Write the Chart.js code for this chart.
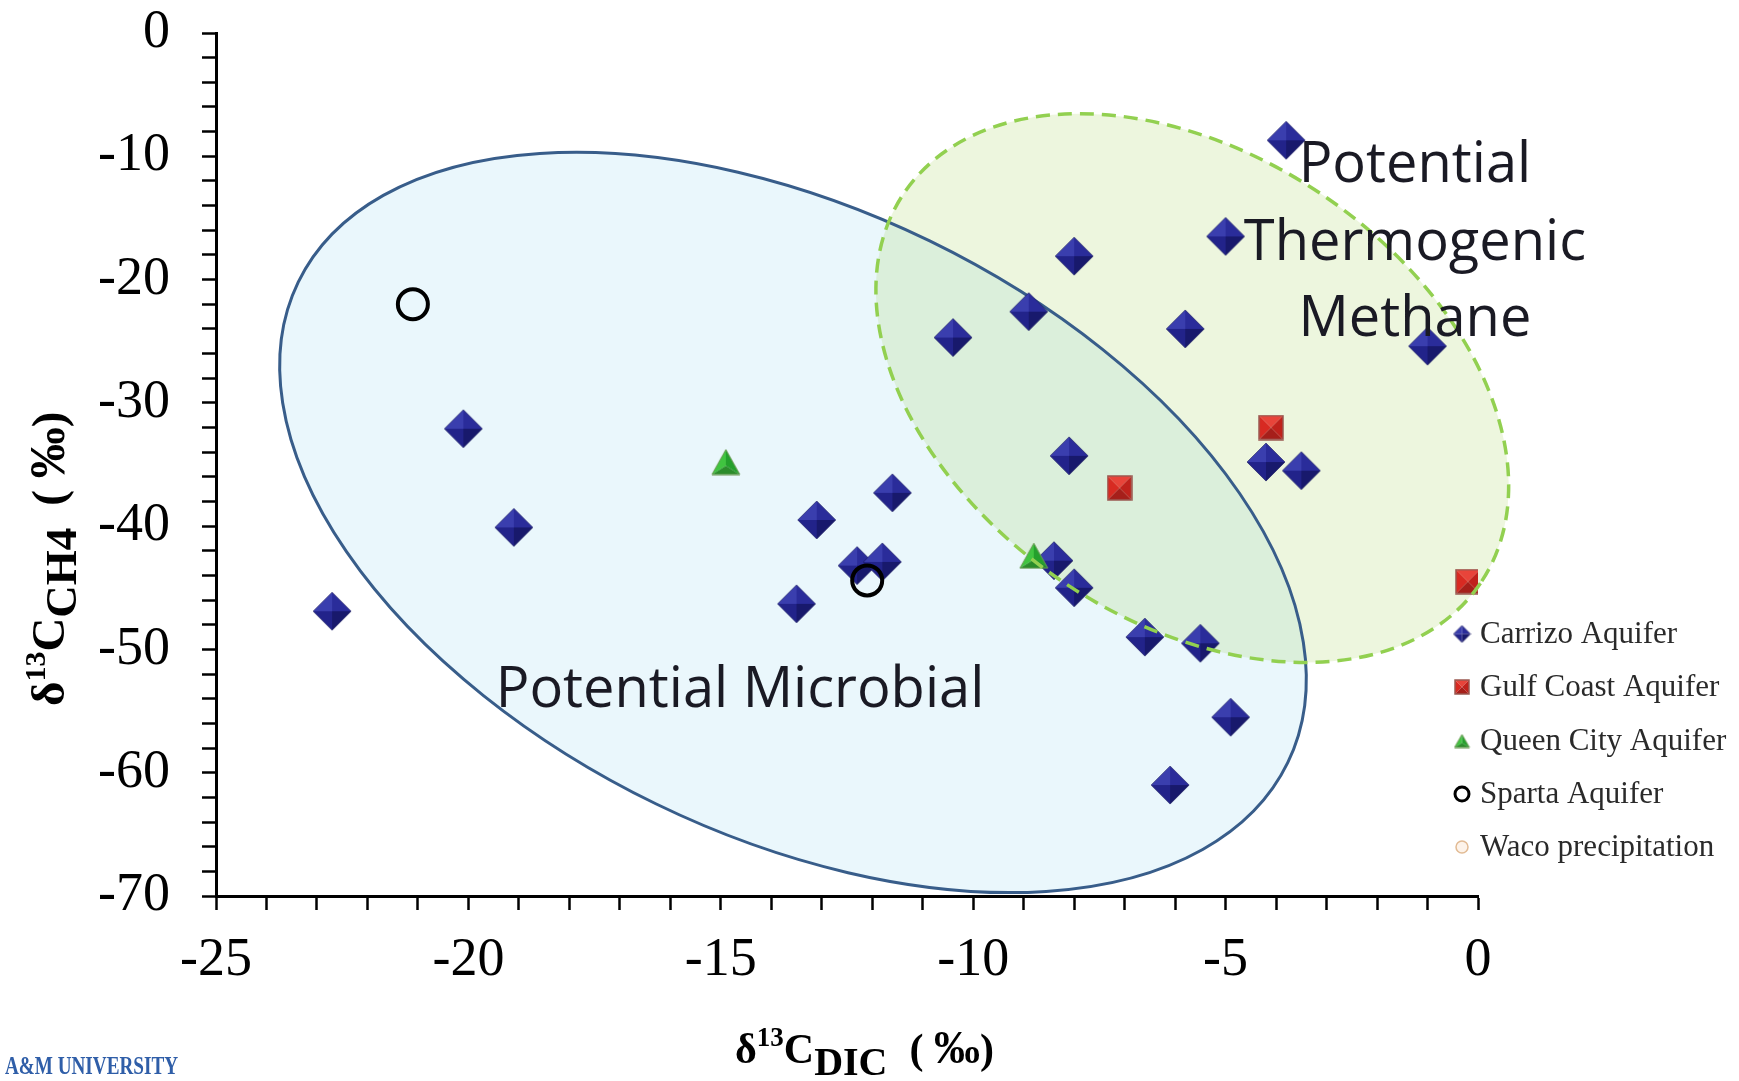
<!DOCTYPE html>
<html>
<head>
<meta charset="utf-8">
<title>d13C DIC vs CH4</title>
<script src="https://cdn.jsdelivr.net/npm/chart.js@4.4.1/dist/chart.umd.min.js"></script>
<style>
  html, body { margin: 0; padding: 0; background: #fff; }
  canvas { display: block; }
</style>
</head>
<body>
<canvas id="chart" width="1739" height="1081"></canvas>
<script>
// series values (per mil)
const carrizoX = [-22.7, -20.1, -19.1, -13.5, -13.1, -12.3, -11.8, -11.6, -10.4, -8.9, -8.4, -8.1, -8.0, -8.0, -6.6, -6.1, -5.8, -5.5, -5.0, -4.9, -4.2, -3.8, -3.5, -1.0];
const carrizoY = [-46.9, -32.1, -40.1, -46.3, -39.5, -43.2, -42.9, -37.3, -24.7, -22.6, -42.8, -34.3, -18.1, -45.0, -49.0, -61.0, -24.0, -49.5, -16.5, -55.5, -34.8, -8.7, -35.5, -25.4];
const gulfX = [-7.1, -4.1, -0.2];
const gulfY = [-36.9, -32.0, -44.5];
const queenX = [-14.9, -8.8];
const queenY = [-34.8, -42.4];
const spartaX = [-21.1, -12.1];
const spartaY = [-22.0, -44.4];
const wacoX = [];
const wacoY = [];

const seriesNames = ["Carrizo Aquifer", "Gulf Coast Aquifer", "Queen City Aquifer", "Sparta Aquifer", "Waco precipitation"];
const xTicks = [-25, -20, -15, -10, -5, 0];
const yTicks = [0, -10, -20, -30, -40, -50, -60, -70];

const serif = "'Liberation Serif', 'Times New Roman', serif";
const sans = "'Open Sans', 'Noto Sans', sans-serif";

// shaded marker sprites (Excel style bevel)
function facet(g, pts, color) {
    g.beginPath();
    g.moveTo(pts[0][0], pts[0][1]);
    for (let i = 1; i < pts.length; i++) g.lineTo(pts[i][0], pts[i][1]);
    g.closePath();
    g.fillStyle = color;
    g.fill();
}

function makeDiamond(size) {
    const c = document.createElement("canvas");
    c.width = c.height = size;
    const g = c.getContext("2d");
    const m = size / 2, r = size / 2 - 1;
    const T = [m, m - r], R = [m + r, m], B = [m, m + r], L = [m - r, m], C = [m, m];
    facet(g, [T, L, C], "#3a3eae");
    facet(g, [T, R, C], "#2a2c9a");
    facet(g, [B, R, C], "#18196c");
    facet(g, [B, L, C], "#22238a");
    g.strokeStyle = "rgba(20,20,90,0.6)";
    g.lineWidth = 1;
    g.beginPath(); g.moveTo(T[0], T[1]); g.lineTo(R[0], R[1]); g.lineTo(B[0], B[1]); g.lineTo(L[0], L[1]); g.closePath(); g.stroke();
    return c;
}

function makeSquare(size) {
    const c = document.createElement("canvas");
    c.width = c.height = size;
    const g = c.getContext("2d");
    const a = 1, b = size - 1, m = size / 2;
    const C = [m, m];
    facet(g, [[a, a], [b, a], C], "#e8443a");
    facet(g, [[a, a], [a, b], C], "#d82a22");
    facet(g, [[b, a], [b, b], C], "#c0221c");
    facet(g, [[a, b], [b, b], C], "#a61f1a");
    g.strokeStyle = "#9a5a52";
    g.lineWidth = 1.5;
    g.strokeRect(a, a, b - a, b - a);
    return c;
}

function makeTriangle(w, h) {
    const c = document.createElement("canvas");
    c.width = w; c.height = h;
    const g = c.getContext("2d");
    const A = [w / 2, 1], BL = [1, h - 1], BR = [w - 1, h - 1], C = [w / 2, h * 0.64];
    facet(g, [A, BL, C], "#40c440");
    facet(g, [A, BR, C], "#24a02c");
    facet(g, [BL, BR, C], "#2b8c2b");
    g.strokeStyle = "#6c9a54";
    g.lineWidth = 1;
    g.beginPath(); g.moveTo(A[0], A[1]); g.lineTo(BR[0], BR[1]); g.lineTo(BL[0], BL[1]); g.closePath(); g.stroke();
    return c;
}

const diamondImg = makeDiamond(40);
const squareImg = makeSquare(26);
const triangleImg = makeTriangle(30, 27);
const legendMarks = [makeDiamond(19), makeSquare(16), makeTriangle(17, 15)];

function pairs(xs, ys) {
    return xs.map((x, i) => ({ x: x, y: ys[i] }));
}

// shaded regions
const microbial = { cx: -13.57, cy: -39.7, rx: 550, ry: 313, angle: 25.9 };
const thermogenic = { cx: -5.66, cy: -28.8, rx: 348, ry: 233, angle: 34.1 };

function ellipsePath(ctx, chart, e) {
    const cx = chart.scales.x.getPixelForValue(e.cx);
    const cy = chart.scales.y.getPixelForValue(e.cy);
    ctx.beginPath();
    ctx.ellipse(cx, cy, e.rx, e.ry, e.angle * Math.PI / 180, 0, Math.PI * 2);
}

// draws a run of text pieces with sub/superscript offsets
function richText(ctx, pieces) {
    let x = 0;
    pieces.forEach(p => {
        ctx.font = p.font;
        ctx.fillText(p.text, x, p.dy || 0);
        x += ctx.measureText(p.text).width + (p.gap || 0);
    });
}

function titlePieces(sub, size) {
    return [
        { text: "δ", font: "bold " + size + "px " + serif },
        { text: "13", font: "bold " + Math.round(size * 0.64) + "px " + serif, dy: -size * 0.4 },
        { text: "C", font: "bold " + size + "px " + serif },
        { text: sub, font: "bold " + (size - 2) + "px " + serif, dy: 12, gap: 22 },
        { text: "( ", font: "bold " + size + "px " + serif },
        { text: "‰", font: "bold " + (size + 4) + "px " + serif },
        { text: ")", font: "bold " + size + "px " + serif }
    ];
}

const decorPlugin = {
    id: "decor",
    beforeDatasetsDraw(chart) {
        const ctx = chart.ctx;
        ctx.save();
        ellipsePath(ctx, chart, microbial);
        ctx.fillStyle = "#eaf7fc";
        ctx.fill();
        ellipsePath(ctx, chart, thermogenic);
        ctx.fillStyle = "rgba(146,200,60,0.17)";
        ctx.fill();
        ellipsePath(ctx, chart, microbial);
        ctx.strokeStyle = "#385d8a";
        ctx.lineWidth = 3;
        ctx.stroke();
        ctx.restore();
    },
    afterDatasetsDraw(chart) {
        const ctx = chart.ctx;
        ctx.save();
        ellipsePath(ctx, chart, thermogenic);
        ctx.strokeStyle = "#92d050";
        ctx.lineWidth = 3.5;
        ctx.setLineDash([14, 8]);
        ctx.stroke();
        ctx.restore();
    },
    afterDraw(chart) {
        const ctx = chart.ctx;
        const xs = chart.scales.x, ys = chart.scales.y;
        ctx.save();

        // region labels
        ctx.fillStyle = "#1a1a24";
        ctx.font = "56px " + sans;
        ctx.textAlign = "center";
        ctx.textBaseline = "middle";
        ctx.fillText("Potential Microbial", xs.getPixelForValue(-14.62), ys.getPixelForValue(-53.4));
        const tx = xs.getPixelForValue(-1.25);
        ctx.fillText("Potential", tx, ys.getPixelForValue(-10.8));
        ctx.fillText("Thermogenic", tx, ys.getPixelForValue(-17.1));
        ctx.fillText("Methane", tx, ys.getPixelForValue(-23.3));

        // axis titles
        ctx.fillStyle = "#000";
        ctx.textAlign = "left";
        ctx.textBaseline = "alphabetic";
        ctx.save();
        ctx.translate(735, 1063);
        richText(ctx, titlePieces("DIC", 42));
        ctx.restore();
        ctx.save();
        ctx.translate(64, 706);
        ctx.rotate(-Math.PI / 2);
        richText(ctx, titlePieces("CH4", 47));
        ctx.restore();

        // legend
        const rows = [634, 687, 741, 794, 847];
        ctx.font = "31px " + serif;
        ctx.fillStyle = "#2a2a2a";
        ctx.textBaseline = "middle";
        seriesNames.forEach((name, i) => {
            const y = rows[i], mx = 1462;
            if (i < 3) {
                const m = legendMarks[i];
                ctx.drawImage(m, mx - m.width / 2, y - m.height / 2);
            } else if (i === 3) {
                ctx.beginPath();
                ctx.arc(mx, y, 7, 0, Math.PI * 2);
                ctx.lineWidth = 3;
                ctx.strokeStyle = "#000";
                ctx.stroke();
            } else {
                ctx.beginPath();
                ctx.arc(mx, y, 6, 0, Math.PI * 2);
                ctx.fillStyle = "#fdf3ea";
                ctx.fill();
                ctx.lineWidth = 1.5;
                ctx.strokeStyle = "#e2bb94";
                ctx.stroke();
                ctx.fillStyle = "#2a2a2a";
            }
            ctx.fillText(name, 1480, y + 1);
        });

        // corner logo remnant
        ctx.font = "bold 26px " + serif;
        ctx.fillStyle = "#2f5ea8";
        ctx.textBaseline = "alphabetic";
        const logo = "A&M UNIVERSITY";
        const w = ctx.measureText(logo).width;
        ctx.translate(5, 1074);
        ctx.scale(173 / w, 1);
        ctx.fillText(logo, 0, 0);
        ctx.restore();
    }
};

const axisGrid = {
    display: true,
    drawOnChartArea: false,
    drawTicks: true,
    tickLength: 14,
    tickColor: "#000",
    tickWidth: 2.5
};

new Chart(document.getElementById("chart"), {
    type: "scatter",
    data: {
        datasets: [
            { label: seriesNames[0], data: pairs(carrizoX, carrizoY), pointStyle: diamondImg, pointRadius: 19, order: 5 },
            { label: seriesNames[1], data: pairs(gulfX, gulfY), pointStyle: squareImg, pointRadius: 13, order: 4 },
            { label: seriesNames[2], data: pairs(queenX, queenY), pointStyle: triangleImg, pointRadius: 14, order: 3 },
            { label: seriesNames[3], data: pairs(spartaX, spartaY), pointStyle: "circle", pointRadius: 15,
              backgroundColor: "rgba(0,0,0,0)", borderColor: "#000", pointBorderWidth: 4, order: 2 },
            { label: seriesNames[4], data: pairs(wacoX, wacoY), pointStyle: "circle", pointRadius: 6,
              backgroundColor: "#fdf3ea", borderColor: "#e2bb94", pointBorderWidth: 1.5, order: 1 }
        ]
    },
    options: {
        responsive: false,
        devicePixelRatio: 1,
        animation: false,
        layout: { padding: { top: 33, right: 261, bottom: 0, left: 0 } },
        plugins: {
            legend: { display: false },
            tooltip: { enabled: false }
        },
        scales: {
            x: {
                type: "linear",
                min: xTicks[0],
                max: xTicks[xTicks.length - 1],
                afterFit: s => { s.height = 185; },
                border: { display: true, color: "#000", width: 3 },
                grid: axisGrid,
                ticks: {
                    stepSize: 1,
                    autoSkip: false,
                    maxRotation: 0,
                    padding: 18,
                    color: "#000",
                    font: { family: serif, size: 54 },
                    callback: v => xTicks.includes(v) ? String(v) : ""
                }
            },
            y: {
                type: "linear",
                min: yTicks[yTicks.length - 1],
                max: yTicks[0],
                afterFit: s => { s.width = 216; s.paddingTop = 0; s.paddingBottom = 0; },
                border: { display: true, color: "#000", width: 3 },
                grid: axisGrid,
                ticks: {
                    stepSize: 2,
                    autoSkip: false,
                    padding: 32,
                    color: "#000",
                    font: { family: serif, size: 54 },
                    callback: v => yTicks.includes(v) ? String(v) : ""
                }
            }
        }
    },
    plugins: [decorPlugin]
});
</script>
</body>
</html>
